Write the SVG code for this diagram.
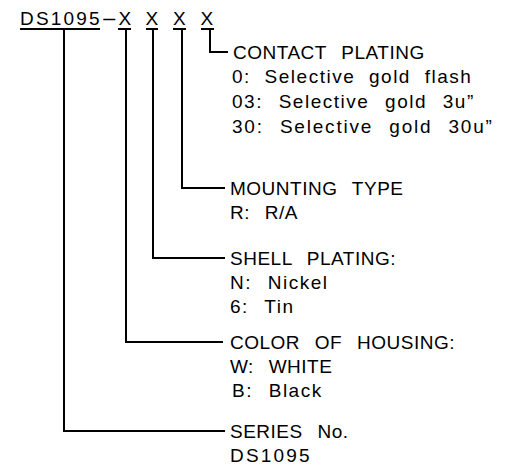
<svg xmlns="http://www.w3.org/2000/svg" width="507" height="470" viewBox="0 0 507 470">
<style>
text{font-family:"Liberation Sans",Arial,sans-serif;font-size:19px;fill:#000;letter-spacing:0.5px;word-spacing:9px}
.lc{letter-spacing:1.5px}
.num{letter-spacing:2.2px}
.ln{stroke:#000;stroke-width:2;fill:none}
</style>
<rect width="507" height="470" fill="#fff"/>
<g id="part-number">
<text x="20" y="25"><tspan x="20" class="num">DS1095</tspan><tspan x="118.5">X</tspan> <tspan x="145.5">X</tspan> <tspan x="173">X</tspan> <tspan x="200.5">X</tspan></text>
<text transform="translate(101 25) scale(2.6 1)" style="letter-spacing:0">-</text>
<path class="ln" d="M20 29H100M118 29H131M146 29H158M173 29H186M201 29H214"/>
</g>
<g id="connectors">
<path class="ln" d="M64 29V431H225"/>
<path class="ln" d="M126 29V342H223"/>
<path class="ln" d="M153 29V258H225"/>
<path class="ln" d="M182 29V188H225"/>
<path class="ln" d="M210 29V52H228"/>
</g>
<g id="contact-plating">
<text x="233" y="59">CONTACT PLATING</text>
<text x="232" y="83" class="lc" style="word-spacing:7px">0: Selective gold flash</text>
<text x="232" y="108" class="lc">03: Selective gold 3u”</text>
<text x="232" y="133" class="lc" style="letter-spacing:1.8px">30: Selective gold 30u”</text>
</g>
<g id="mounting-type">
<text x="230" y="195">MOUNTING TYPE</text>
<text x="230" y="219">R: R/A</text>
</g>
<g id="shell-plating">
<text x="230" y="265">SHELL PLATING:</text>
<text x="230" y="289" class="lc">N: Nickel</text>
<text x="230" y="313" class="lc">6: Tin</text>
</g>
<g id="color-of-housing">
<text x="230" y="349">COLOR OF HOUSING:</text>
<text x="230" y="373">W: WHITE</text>
<text x="232" y="397" class="lc">B: Black</text>
</g>
<g id="series">
<text x="230" y="438">SERIES No.</text>
<text x="230" y="462" class="num">DS1095</text>
</g>
</svg>
